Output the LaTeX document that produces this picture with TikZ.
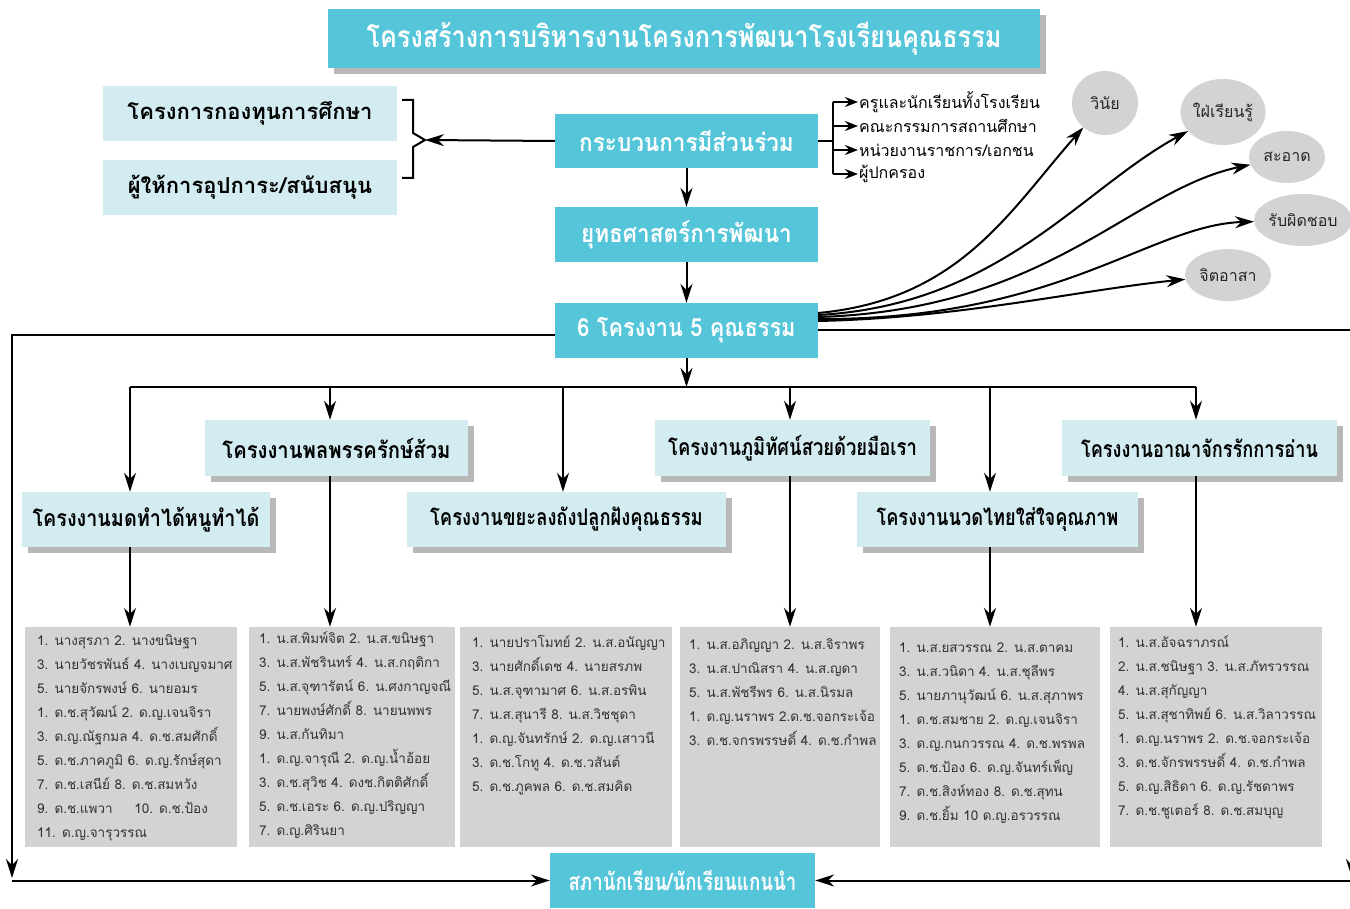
\documentclass[tikz,border=0pt]{standalone}
\usepackage{fontspec}
\newfontfamily\thai[Script=Thai]{Loma}
\usetikzlibrary{arrows.meta,shadows,shapes.geometric}
\definecolor{cyanb}{HTML}{55C5DA}
\definecolor{lblue}{HTML}{D2ECF1}
\definecolor{lgray}{HTML}{D1D3D4}
\definecolor{txtgray}{HTML}{333333}
\newcommand{\cnd}[2][0.88]{\scalebox{#1}[1]{#2}}
\begin{document}
\begin{tikzpicture}[x=1pt,y=-1pt, font=\thai,
  arr/.style={-{Stealth[length=19pt,width=12pt]}, line width=2pt},
  sarr/.style={-{Stealth[length=13pt,width=10pt]}, line width=2pt},
  ln/.style={line width=2pt},
  cbox/.style={fill=cyanb, text=white, inner sep=0, font=\thai\bfseries\fontsize{25}{27}\selectfont},
  lbox/.style={fill=lblue, inner sep=0, font=\thai\bfseries\fontsize{23}{25}\selectfont},
  shad/.style={general shadow={fill=black!28, shadow xshift=6pt, shadow yshift=-6pt}},
  gbox/.style={fill=lgray, inner sep=0},
  li/.style={anchor=base west, inner sep=0, text=txtgray, font=\thai\fontsize{13.5}{16}\selectfont},
  rl/.style={anchor=west, inner sep=1pt, font=\thai\fontsize{16}{18}\selectfont},
  oval/.style={ellipse, fill=lgray, inner sep=0, font=\thai\fontsize{16}{18}\selectfont, text=black!85}
]
\useasboundingbox (0,0) rectangle (1350,909);
\clip (0,0) rectangle (1350,909);

% title
\node[cbox, shad, minimum width=712pt, minimum height=59pt, font=\thai\bfseries\fontsize{30}{32}\selectfont] (title) at (684,38.5) {\cnd[0.84]{โครงสร้างการบริหารงานโครงการพัฒนาโรงเรียนคุณธรรม}};

% left boxes
\node[fill=lblue, inner sep=0, minimum width=294pt, minimum height=55pt, font=\thai\bfseries\fontsize{22}{24}\selectfont] (fund) at (250,113.5) {โครงการกองทุนการศึกษา};
\node[fill=lblue, inner sep=0, minimum width=294pt, minimum height=55pt, font=\thai\bfseries\fontsize{22}{24}\selectfont] (supp) at (250,187.5) {ผู้ให้การอุปการะ/สนับสนุน};

% main column
\node[cbox, minimum width=263pt, minimum height=54pt] (part) at (686.5,141) {\cnd[0.9]{กระบวนการมีส่วนร่วม}};
\node[cbox, minimum width=263pt, minimum height=55pt] (strat) at (686.5,234.5) {\cnd[0.9]{ยุทธศาสตร์การพัฒนา}};
\node[cbox, minimum width=263pt, minimum height=55pt] (six) at (686.5,330.5) {\cnd[0.87]{6 โครงงาน 5 คุณธรรม}};
\node[cbox, minimum width=265pt, minimum height=55pt, font=\thai\bfseries\fontsize{24}{26}\selectfont] (sapa) at (682.5,880.5) {\cnd[0.78]{สภานักเรียน/นักเรียนแกนนำ}};

\draw[arr] (part) -- (strat);
\draw[arr] (strat) -- (six);

% brace
\coordinate (bt) at (425,140);
\draw[line width=2pt] (402,100) -- (413,100) -- (413,133) -- (bt) -- (413,147) -- (413,178) -- (402,178);
\draw[arr] (part.west) -- (bt);

% right list
\coordinate (pj) at (833,141);
\coordinate (pt) at (833,102);
\coordinate (pb) at (833,174);
\node[rl] (r1) at (858,102) {ครูและนักเรียนทั้งโรงเรียน};
\node[rl] (r2) at (858,126) {คณะกรรมการสถานศึกษา};
\node[rl] (r3) at (858,150) {หน่วยงานราชการ/เอกชน};
\node[rl] (r4) at (858,174) {ผู้ปกครอง};
\draw[ln] (part.east) -- (pj);
\draw[ln] (pt) -- (pb);
\foreach \r in {r1,r2,r3,r4} \draw[sarr] (pt |- \r.west) -- (\r.west);

% ovals
\node[oval, minimum width=66pt, minimum height=64pt] (o1) at (1105,103) {วินัย};
\node[oval, minimum width=76pt, minimum height=66pt] (o2) at (1223,112) {ใฝ่เรียนรู้};
\node[oval, minimum width=76pt, minimum height=52pt] (o3) at (1287,157) {สะอาด};
\node[oval, minimum width=90pt, minimum height=52pt] (o4) at (1303,220) {รับผิดชอบ};
\node[oval, minimum width=86pt, minimum height=52pt] (o5) at (1228,275) {จิตอาสา};
\coordinate (s1) at (818,313);
\coordinate (s2) at (818,315);
\coordinate (s3) at (818,317);
\coordinate (s4) at (818,319);
\coordinate (s5) at (818,321);
\draw[arr] (s1) .. controls (960,300) and (1010,210) .. (o1);
\draw[arr] (s2) .. controls (1000,305) and (1080,190) .. (o2);
\draw[arr] (s3) .. controls (1050,310) and (1130,190) .. (o3);
\draw[arr] (s4) .. controls (1060,320) and (1150,225) .. (o4);
\draw[arr] (s5) .. controls (960,318) and (1080,290) .. (o5);

% long loops to sapa
\coordinate (L1) at (12,335);
\coordinate (L2) at (12,880.5);
\coordinate (L3) at (12,878);
\coordinate (R1) at (1352,330);
\coordinate (R2) at (1352,880.5);
\coordinate (R3) at (1352,878);
\draw[arr] (six.west |- L1) -- (L1) -- (L3);
\draw[arr] (L2) -- (sapa.west);
\draw[arr] (six.east |- R1) -- (R1) -- (R3);
\draw[arr] (R2) -- (sapa.east);

% bus
\coordinate (b1) at (130,387);
\coordinate (b2) at (330,387);
\coordinate (b3) at (563,387);
\coordinate (b4) at (790,387);
\coordinate (b5) at (990,387);
\coordinate (b6) at (1196,387);
\draw[ln] (b1) -- (b6);
\draw[arr] (six.south) -- (six.south |- b1);

% project boxes
\node[lbox, shad, minimum width=263pt, minimum height=56pt] (p2) at (336.5,448) {\cnd[0.88]{โครงงานพลพรรครักษ์ส้วม}};
\node[lbox, shad, minimum width=275pt, minimum height=56pt] (p4) at (792.5,448) {\cnd[0.80]{โครงงานภูมิทัศน์สวยด้วยมือเรา}};
\node[lbox, shad, minimum width=275pt, minimum height=56pt] (p6) at (1199.5,448) {\cnd[0.79]{โครงงานอาณาจักรรักการอ่าน}};
\node[lbox, shad, minimum width=248pt, minimum height=55pt] (p1) at (146,519.5) {\cnd[0.86]{โครงงานมดทำได้หนูทำได้}};
\node[lbox, shad, minimum width=319pt, minimum height=55pt] (p3) at (566.5,519.5) {\cnd[0.80]{โครงงานขยะลงถังปลูกฝังคุณธรรม}};
\node[lbox, shad, minimum width=281pt, minimum height=55pt] (p5) at (997.5,519.5) {\cnd[0.79]{โครงงานนวดไทยใส่ใจคุณภาพ}};

\draw[arr] (b1) -- (b1 |- p1.north);
\draw[arr] (b2) -- (b2 |- p2.north);
\draw[arr] (b3) -- (b3 |- p3.north);
\draw[arr] (b4) -- (b4 |- p4.north);
\draw[arr] (b5) -- (b5 |- p5.north);
\draw[arr] (b6) -- (b6 |- p6.north);

% gray lists
\node[gbox, minimum width=212pt, minimum height=220pt] (g1) at (131,737) {};
\node[gbox, minimum width=206pt, minimum height=220pt] (g2) at (352,737) {};
\node[gbox, minimum width=212pt, minimum height=220pt] (g3) at (566,737) {};
\node[gbox, minimum width=200pt, minimum height=220pt] (g4) at (780,737) {};
\node[gbox, minimum width=210pt, minimum height=220pt] (g5) at (995,737) {};
\node[gbox, minimum width=212pt, minimum height=220pt] (g6) at (1216,737) {};

\draw[arr] (b1 |- p1.south) -- (b1 |- g1.north);
\draw[arr] (b2 |- p2.south) -- (b2 |- g2.north);
\draw[arr] (b4 |- p4.south) -- (b4 |- g4.north);
\draw[arr] (b5 |- p5.south) -- (b5 |- g5.north);
\draw[arr] (b6 |- p6.south) -- (b6 |- g6.north);

\foreach \t [count=\i] in {1. นางสุรภา 2. นางขนิษฐา, 3. นายวัชรพันธ์ 4. นางเบญจมาศ, 5. นายจักรพงษ์ 6. นายอมร, 1. ด.ช.สุวัฒน์ 2. ด.ญ.เจนจิรา, 3. ด.ญ.ณัฐกมล 4. ด.ช.สมศักดิ์, 5. ด.ช.ภาคภูมิ 6. ด.ญ.รักษ์สุดา, 7. ด.ช.เสนีย์ 8. ด.ช.สมหวัง, 9. ด.ช.แพวา\hspace{1.6em}10. ด.ช.ป้อง, 11. ด.ญ.จารุวรรณ}
  \node[li] (ta\i) at (37,645+24*\i-24) {\t};

\foreach \t [count=\i] in {1. น.ส.พิมพ์จิต 2. น.ส.ขนิษฐา, 3. น.ส.พัชรินทร์ 4. น.ส.กฤติกา, 5. น.ส.จุฑารัตน์ 6. น.ศงกาญจณี, 7. นายพงษ์ศักดิ์ 8. นายนพพร, 9. น.ส.กันทิมา, 1. ด.ญ.จารุณี 2. ด.ญ.น้ำอ้อย, 3. ด.ช.สุวิช 4. ดงช.กิตติศักดิ์, 5. ด.ช.เอระ 6. ด.ญ.ปริญญา, 7. ด.ญ.ศิรินยา}
  \node[li] (tb\i) at (259,643+24*\i-24) {\t};

\foreach \t [count=\i] in {1. นายปราโมทย์ 2. น.ส.อนัญญา, 3. นายศักดิ์เดช 4. นายสรภพ, 5. น.ส.จุฑามาศ 6. น.ส.อรพิน, 7. น.ส.สุนารี 8. น.ส.วิชชุดา, 1. ด.ญ.จันทรักษ์ 2. ด.ญ.เสาวนี, 3. ด.ช.โกทู 4. ด.ช.วสันต์, 5. ด.ช.ภูคพล 6. ด.ช.สมคิด}
  \node[li] (tc\i) at (472,647+24*\i-24) {\t};

\foreach \t [count=\i] in {1. น.ส.อภิญญา 2. น.ส.จิราพร, 3. น.ส.ปาณิสรา 4. น.ส.ญดา, 5. น.ส.พัชรีพร 6. น.ส.นิรมล, 1. ด.ญ.นราพร 2.ด.ช.จอกระเจ้อ, 3. ด.ช.จกรพรรษดิ์ 4. ด.ช.กำพล}
  \node[li] (td\i) at (689,649+24*\i-24) {\t};

\foreach \t [count=\i] in {1. น.ส.ยสวรรณ 2. น.ส.ตาคม, 3. น.ส.วนิดา 4. น.ส.ชุลีพร, 5. นายภานุวัฒน์ 6. น.ส.สุภาพร, 1. ด.ช.สมชาย 2. ด.ญ.เจนจิรา, 3. ด.ญ.กนกวรรณ 4. ด.ช.พรพล, 5. ด.ช.ป้อง 6. ด.ญ.จันทร์เพ็ญ, 7. ด.ช.สิงห์ทอง 8. ด.ช.สุทน, 9. ด.ช.ยิ้ม 10 ด.ญ.อรวรรณ}
  \node[li] (te\i) at (899,652+24*\i-24) {\t};

\foreach \t [count=\i] in {1. น.ส.อัจฉราภรณ์, 2. น.ส.ชนิษฐา 3. น.ส.ภัทรวรรณ, 4. น.ส.สุกัญญา, 5. น.ส.สุชาทิพย์ 6. น.ส.วิลาวรรณ, 1. ด.ญ.นราพร 2. ด.ช.จอกระเจ้อ, 3. ด.ช.จักรพรรษดิ์ 4. ด.ช.กำพล, 5. ด.ญ.สิธิดา 6. ด.ญ.รัชดาพร, 7. ด.ช.ชูเตอร์ 8. ด.ช.สมบุญ}
  \node[li] (tf\i) at (1118,647+24*\i-24) {\t};

\end{tikzpicture}
\end{document}
